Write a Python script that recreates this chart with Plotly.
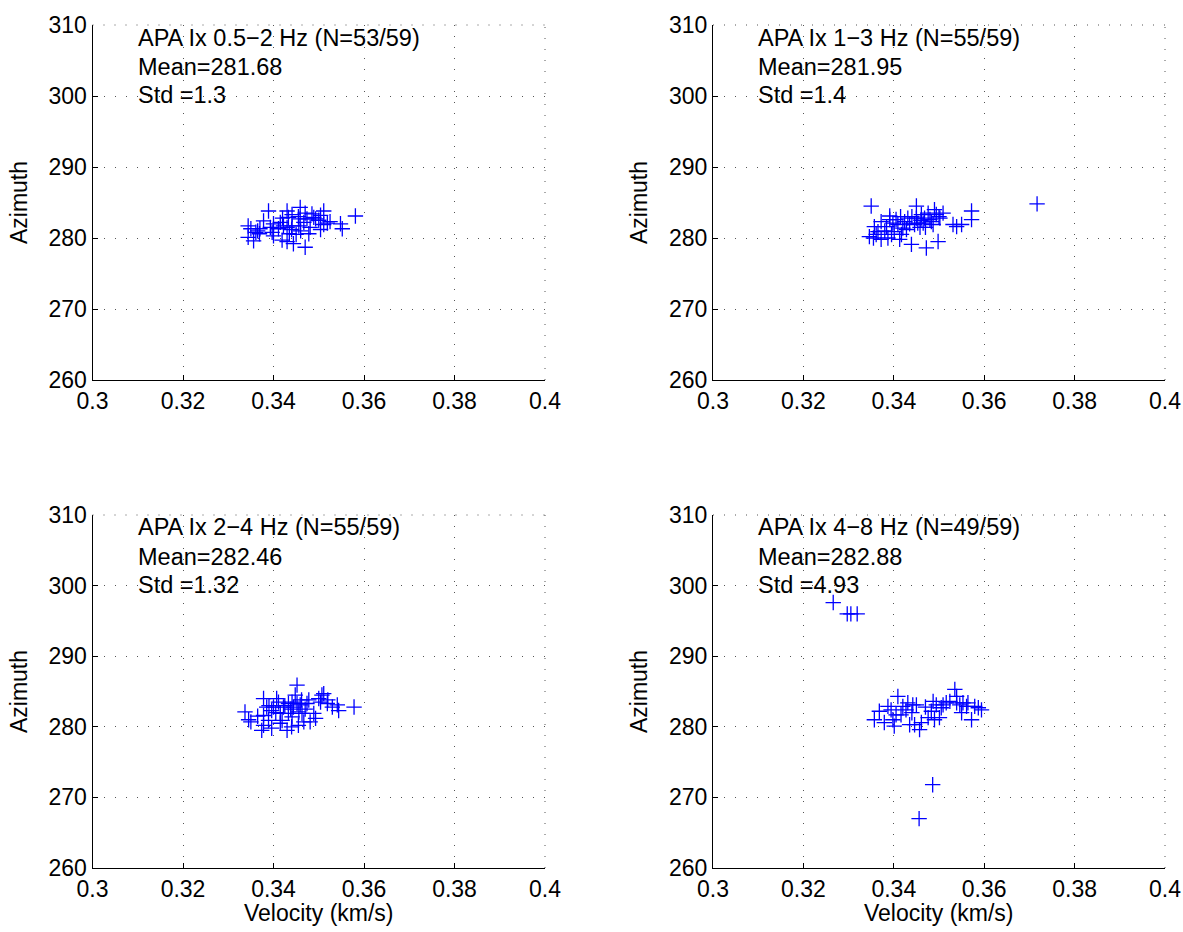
import plotly.graph_objects as go

# ---------------- data ----------------
vel1 = [0.3389,0.3378,0.3344,0.3350,0.3344,0.3356,0.3361,0.3369,0.3397,0.3400,0.3419,0.3430,0.3433,0.3441,0.3415,0.3422,0.3430,0.3441,0.3459,0.3459,0.3456,0.3444,0.3470,0.3478,0.3474,0.3489,0.3504,0.3511,0.3511,0.3519,0.3504,0.3548,0.3552,0.3581,0.3481,0.3467,0.3493,0.3411,0.3393,0.3370,0.3430,0.3450,0.3400,0.3470,0.3455,0.3485,0.3420,0.3460,0.3525,0.3435,0.3365,0.3440,0.3500]
az1 = [283.8,282.4,281.7,281.3,280.1,279.6,280.8,280.6,280.8,280.3,279.7,283.8,282.9,283.3,282.2,281.7,281.5,281.7,284.3,282.7,281.7,279.2,278.7,280.6,282.7,282.9,283.2,283.8,281.9,282.1,281.2,282.0,281.3,283.1,281.5,282.2,282.7,281.3,281.5,281.3,279.5,280.5,282.0,283.5,283.0,283.4,282.8,281.0,282.3,280.6,281.0,281.2,282.5]

vel2 = [0.3350,0.3357,0.3346,0.3361,0.3372,0.3387,0.3391,0.3391,0.3384,0.3398,0.3409,0.3413,0.3424,0.3420,0.3439,0.3431,0.3450,0.3450,0.3446,0.3461,0.3465,0.3468,0.3476,0.3472,0.3490,0.3494,0.3498,0.3502,0.3487,0.3531,0.3539,0.3550,0.3572,0.3572,0.3372,0.3401,0.3428,0.3453,0.3483,0.3509,0.3365,0.3417,0.3717,0.3405,0.3440,0.3458,0.3480,0.3395,0.3355,0.3435,0.3470,0.3500,0.3415,0.3460,0.3380]
az2 = [284.5,281.6,280.2,280.5,279.8,280.0,283.1,282.6,281.6,282.1,281.9,279.8,282.3,281.4,279.1,282.8,284.5,282.8,281.9,283.3,282.1,282.8,283.5,278.6,284.0,283.3,279.5,282.8,281.9,281.9,281.6,281.9,283.8,282.6,282.3,280.9,281.2,282.1,282.3,283.5,280.9,280.5,284.8,282.6,283.0,281.5,282.6,280.5,280.0,282.0,281.5,283.0,283.0,282.5,281.0]

vel3 = [0.3337,0.3350,0.3378,0.3378,0.3378,0.3389,0.3374,0.3396,0.3400,0.3407,0.3411,0.3415,0.3419,0.3430,0.3422,0.3433,0.3441,0.3444,0.3452,0.3448,0.3452,0.3459,0.3456,0.3463,0.3467,0.3478,0.3481,0.3493,0.3489,0.3504,0.3507,0.3511,0.3519,0.3530,0.3541,0.3544,0.3578,0.3433,0.3396,0.3385,0.3474,0.3441,0.3345,0.3365,0.3405,0.3425,0.3438,0.3462,0.3470,0.3455,0.3415,0.3500,0.3520,0.3390,0.3440]
az3 = [282.1,280.7,284.0,281.6,280.2,280.9,279.5,279.8,282.8,284.0,283.5,281.9,280.9,279.5,282.8,283.3,283.5,282.8,285.9,284.5,283.3,283.1,282.1,281.9,280.7,283.8,280.7,281.2,281.9,283.5,284.5,284.7,283.3,282.8,283.1,282.3,282.8,281.9,282.3,282.8,283.3,281.4,281.0,281.5,282.0,283.0,282.5,283.8,282.5,280.2,280.5,284.0,283.8,283.0,280.0]

vel4 = [0.3357,0.3368,0.3379,0.3387,0.3394,0.3409,0.3401,0.3405,0.3416,0.3420,0.3427,0.3431,0.3435,0.3442,0.3446,0.3450,0.3457,0.3461,0.3476,0.3483,0.3487,0.3494,0.3490,0.3501,0.3505,0.3509,0.3516,0.3524,0.3535,0.3539,0.3539,0.3546,0.3553,0.3561,0.3564,0.3572,0.3579,0.3587,0.3594,0.3266,0.3297,0.3305,0.3319,0.3486,0.3456,0.3398,0.3440,0.3470,0.3550]
az4 = [281.0,282.2,280.6,282.9,282.4,284.3,280.1,281.7,281.7,282.9,282.4,283.4,280.3,283.1,280.3,283.1,279.6,280.6,281.3,282.2,283.6,283.1,281.0,281.3,282.7,283.1,283.4,283.6,285.3,284.3,283.4,283.1,283.4,282.9,283.4,281.0,282.9,282.7,282.4,297.6,296.0,296.0,296.0,271.8,267.0,281.0,282.0,282.8,282.0]

titles = ["APA Ix 0.5\u22122 Hz (N=53/59)", "APA Ix 1\u22123 Hz (N=55/59)",
          "APA Ix 2\u22124 Hz (N=55/59)", "APA Ix 4\u22128 Hz (N=49/59)"]
means = ["Mean=281.68", "Mean=281.95", "Mean=282.46", "Mean=282.88"]
stds = ["Std =1.3", "Std =1.4", "Std =1.32", "Std =4.93"]

x_ticks = [0.3, 0.32, 0.34, 0.36, 0.38, 0.4]
x_ticktext = ["0.3", "0.32", "0.34", "0.36", "0.38", "0.4"]
y_ticks = [260, 270, 280, 290, 300, 310]
x_title = "Velocity (km/s)"
y_title = "Azimuth"

vels = [vel1, vel2, vel3, vel4]
azs = [az1, az2, az3, az4]

# ---------------- figure ----------------
W, H = 1183, 932
FONT = "Liberation Sans, Arial, Helvetica, sans-serif"
FS = 23
FS_TXT = 23.5
xdoms = [[92.5 / W, 545 / W], [713 / W, 1165 / W]]
ydoms = [[1 - 380 / H, 1 - 25 / H], [1 - 868 / H, 1 - 515 / H]]

fig = go.Figure()
layout = dict(
    width=W, height=H, margin=dict(l=0, r=0, t=0, b=0, autoexpand=False),
    paper_bgcolor="white", plot_bgcolor="white", showlegend=False,
    font=dict(family=FONT, size=FS, color="black"),
)
annotations = []
shapes = []
for i in range(4):
    r, c = divmod(i, 2)
    n = i + 1
    xa = "xaxis" if n == 1 else f"xaxis{n}"
    ya = "yaxis" if n == 1 else f"yaxis{n}"
    xr = "x" if n == 1 else f"x{n}"
    yr = "y" if n == 1 else f"y{n}"
    fig.add_trace(go.Scatter(
        x=vels[i], y=azs[i], mode="markers", xaxis=xr, yaxis=yr,
        marker=dict(symbol="cross-thin-open", size=11, color="#0000ff",
                    line=dict(color="#0000ff", width=1.3)),
    ))
    common = dict(showline=True, linecolor="black", linewidth=1, ticks="inside",
                  ticklen=5, tickcolor="black", showgrid=True, gridcolor="#555555",
                  gridwidth=1, griddash="1px,10px", zeroline=False, automargin=False,
                  tickfont=dict(family=FONT, size=FS, color="black"))
    layout[xa] = dict(domain=xdoms[c], range=[0.3, 0.4], anchor=yr,
                      tickvals=x_ticks, ticktext=x_ticktext, **common)
    if r == 1:
        # x-axis title placed as text just below the tick labels
        annotations.append(dict(x=0.5, y=1 - 913 / H, xref=f"{xr} domain", yref="paper",
                                text=x_title, showarrow=False, xanchor="center",
                                yanchor="middle", font=dict(family=FONT, size=FS, color="black")))
    layout[ya] = dict(domain=ydoms[r], range=[260, 310], anchor=xr,
                      tickvals=y_ticks, **common)
    layout[ya]["title"] = dict(text=y_title, standoff=14, font=dict(family=FONT, size=FS))
    for txt, yv in zip([titles[i], means[i], stds[i]], [308.24, 304.1, 300.1]):
        annotations.append(dict(x=0.3098, y=yv, xref=xr, yref=yr, text=txt,
                                showarrow=False, xanchor="left", yanchor="middle",
                                xshift=-1,
                                font=dict(family=FONT, size=FS_TXT, color="black")))
    # dotted frame lines at the top and right (grid at the axis ends)
    shapes.append(dict(type="line", xref=f"{xr} domain", yref=f"{yr} domain",
                       x0=0, x1=1, y0=1, y1=1,
                       line=dict(color="#555555", width=1, dash="1px,10px")))
    shapes.append(dict(type="line", xref=f"{xr} domain", yref=f"{yr} domain",
                       x0=1, x1=1, y0=0, y1=1,
                       line=dict(color="#555555", width=1, dash="1px,10px")))

layout["annotations"] = annotations
layout["shapes"] = shapes
fig.update_layout(**layout)
fig.write_html("out.html", config={"displayModeBar": False},
               post_script="document.body.style.margin='0px';document.body.style.overflow='hidden';")
